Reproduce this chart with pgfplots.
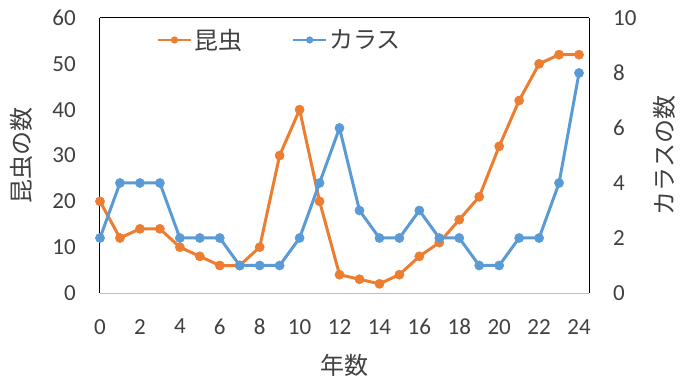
\documentclass[border=0pt]{standalone}
\usepackage{pgfplots}
\pgfplotsset{compat=1.18}
\usepackage{fontspec}
\setmainfont{Carlito}
\newfontfamily\jp{Noto Sans CJK JP}
\definecolor{xlorange}{HTML}{ED7D31}
\definecolor{xlblue}{HTML}{5B9BD5}
\definecolor{txt}{HTML}{404040}
\begin{document}
\begin{tikzpicture}
\useasboundingbox (-100bp,-93bp) rectangle (600bp,293bp);
\pgfplotsset{
  common/.style={
    scale only axis, width=489bp, height=275bp,
    xmin=0, xmax=24.5,
    major tick length=0pt,
    tick label style={font=\fontsize{23bp}{27bp}\selectfont, text=txt},
    /pgf/number format/assume math mode=true,
    label style={font=\fontsize{24bp}{28bp}\selectfont, text=txt},
  },
  orst/.style={xlorange, line width=3bp, mark=*, mark size=4.6bp, mark options={solid, fill=xlorange, draw=xlorange, line width=0.5bp}},
  blst/.style={xlblue, line width=3bp, mark=*, mark size=4.6bp, mark options={solid, fill=xlblue, draw=xlblue, line width=0.5bp}},
}
\begin{axis}[common,
  ymin=0, ymax=60,
  xtick={0,2,...,24}, ytick={0,10,...,60},
  axis x line*=bottom, axis y line*=left,
  x axis line style={draw=black!25, line width=1bp, -},
  y axis line style={draw=black, line width=1bp, -},
  yticklabel style={anchor=east, inner sep=0pt, xshift=-24bp},
  xticklabel style={anchor=north, inner sep=0pt, yshift=-26bp},
  xlabel={\jp 年数}, ylabel={\jp 昆虫の数},
  xlabel style={at={(axis description cs:0.5,-0.262)}, anchor=center},
  ylabel style={at={(axis description cs:-0.16,0.5)}, anchor=center},
]
\addplot[orst] coordinates {
(0,20) (1,12) (2,14) (3,14) (4,10) (5,8) (6,6) (7,6) (8,10) (9,30) (10,40) (11,20) (12,4) (13,3) (14,2) (15,4) (16,8) (17,11) (18,16) (19,21) (20,32) (21,42) (22,50) (23,52) (24,52)
};
\end{axis}
\begin{axis}[common,
  ymin=0, ymax=10,
  ytick={0,2,...,10}, xtick=\empty,
  axis x line*=top, axis y line*=right,
  axis line style={draw=black, line width=1bp, -},
  yticklabel style={anchor=west, inner sep=0pt, xshift=24bp},
  ylabel={\jp カラスの数},
  ylabel style={at={(axis description cs:1.155,0.5)}, anchor=center, rotate=0},
  legend style={at={(axis description cs:0.116,0.92)}, anchor=west, draw=none, fill=none, inner sep=0pt,
    font=\fontsize{24bp}{28bp}\selectfont, text=txt, legend columns=2,
    /tikz/every even column/.append style={column sep=48bp},
    nodes={inner sep=2bp}},
  legend image code/.code={\draw[mark repeat=2,mark phase=2,#1,line width=2.2bp,mark size=3.3bp] plot coordinates {(0bp,0bp) (16.5bp,0bp) (33bp,0bp)};},
]
\addlegendimage{orst}
\addlegendentry{\jp 昆虫}
\addplot[blst] coordinates {
(0,2) (1,4) (2,4) (3,4) (4,2) (5,2) (6,2) (7,1) (8,1) (9,1) (10,2) (11,4) (12,6) (13,3) (14,2) (15,2) (16,3) (17,2) (18,2) (19,1) (20,1) (21,2) (22,2) (23,4) (24,8)
};
\addlegendentry{\jp カラス}
\end{axis}
\end{tikzpicture}
\end{document}
